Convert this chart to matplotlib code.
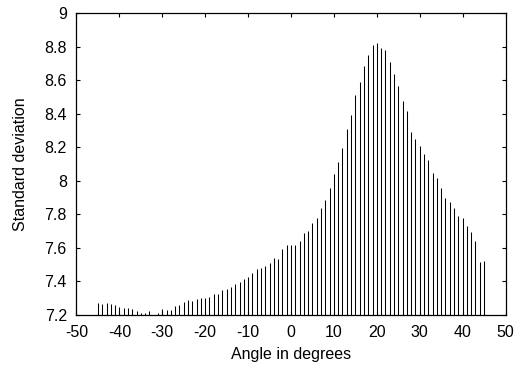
import numpy as np
import matplotlib
matplotlib.use("Agg")
import matplotlib.pyplot as plt
from matplotlib.ticker import FuncFormatter

plt.rcParams['font.family'] = ['Liberation Sans', 'DejaVu Sans']
plt.rcParams['axes.unicode_minus'] = False

# angle in degrees, -45 .. 45 in steps of 1
angles = list(range(-45, 46))
std_dev = [
    7.270, 7.268, 7.270, 7.265, 7.258, 7.246, 7.240, 7.240, 7.234, 7.222,  # -45..-36
    7.214, 7.210, 7.222, 7.203, 7.215, 7.234, 7.230, 7.230, 7.254, 7.260,  # -35..-26
    7.276, 7.290, 7.286, 7.294, 7.300, 7.300, 7.309, 7.325, 7.325, 7.347,  # -25..-16
    7.357, 7.369, 7.385, 7.397, 7.415, 7.429, 7.449, 7.473, 7.482, 7.494,  # -15..-6
    7.512, 7.538, 7.532, 7.592, 7.618, 7.618, 7.618, 7.641, 7.689, 7.701,  # -5..4
    7.749, 7.779, 7.838, 7.886, 7.958, 8.039, 8.111, 8.195, 8.308, 8.393,  # 5..14
    8.511, 8.590, 8.685, 8.751, 8.808, 8.824, 8.793, 8.782, 8.711, 8.638,  # 15..24
    8.569, 8.478, 8.419, 8.292, 8.250, 8.206, 8.161, 8.125, 8.049, 8.015,  # 25..34
    7.957, 7.896, 7.876, 7.836, 7.792, 7.779, 7.731, 7.697, 7.640, 7.516,  # 35..44
    7.520,                                                                 # 45
]
xticks = list(range(-50, 51, 10))
yticks = [7.2, 7.4, 7.6, 7.8, 8.0, 8.2, 8.4, 8.6, 8.8, 9.0]

fig = plt.figure(figsize=(5.15, 3.7), dpi=100)
ax = fig.add_axes([0.1485, 0.1486, 0.8331, 0.8155])

ax.vlines(angles, 7.2, std_dev, colors='black', linewidth=0.75)

ax.set_xlim(-50, 50)
ax.set_ylim(7.2, 9.0)
ax.set_xticks(xticks)
ax.set_yticks(yticks)
ax.yaxis.set_major_formatter(FuncFormatter(lambda v, p: '%g' % round(v, 1)))
ax.tick_params(direction='in', length=3, width=0.8, top=True, right=True,
               labelsize=11.5)
ax.tick_params(axis='x', pad=7.5)
ax.tick_params(axis='y', pad=7)
for s in ax.spines.values():
    s.set_linewidth(0.9)

ax.set_xlabel('Angle in degrees', fontsize=11.5, labelpad=5)
ax.set_ylabel('Standard deviation', fontsize=11.5, labelpad=12)

fig.savefig('out.png', dpi=100)
